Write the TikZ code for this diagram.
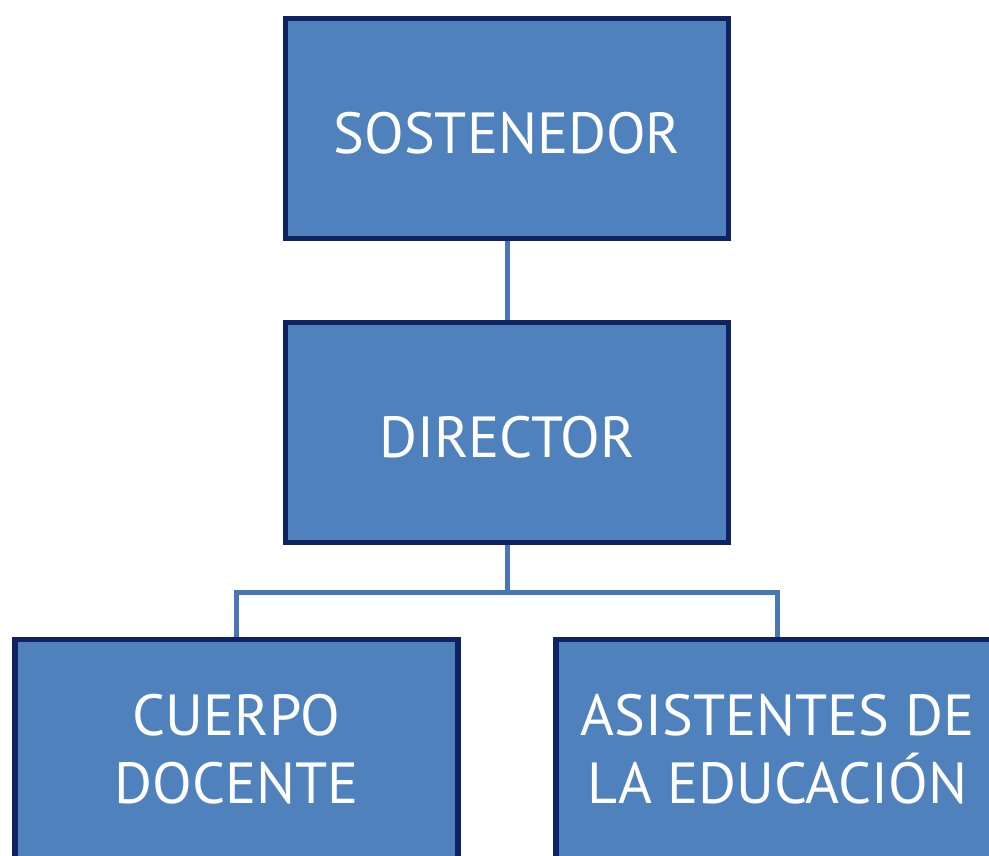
\documentclass[tikz,border=0pt]{standalone}
\usepackage{fontspec}
\setmainfont{PT Sans}
\definecolor{boxfill}{HTML}{4F81BD}
\definecolor{boxline}{HTML}{0F2262}
\definecolor{linkline}{HTML}{4778B5}
\begin{document}
\begin{tikzpicture}[x=1pt,y=-1pt]
				\tikzstyle{unit}=[rectangle,draw=boxline,fill=boxfill,line width=5.5pt,minimum width=443pt,minimum height=220pt,inner sep=0pt,text=white,align=center,font=\fontsize{58}{68}\selectfont]
				\tikzstyle{link}=[draw=linkline,line width=5pt]
				\useasboundingbox (0,0) rectangle (989,856);
				\clip (0,0) rectangle (989,856);
				\node[unit,text height=50pt](s) at (507,128.5){SOSTENEDOR};
				\node[unit,text height=50pt](d) at (507,432.5){DIRECTOR};
				\node[unit](c) at (236.5,749.5){CUERPO\\DOCENTE};
				\node[unit](a) at (777.5,749.5){ASISTENTES DE\\LA EDUCACIÓN};
				\path[link]
					(s) edge (d);
				\draw[link] (d.south) -- ++(0,47.5) coordinate(j) -| (c.north);
				\draw[link] (j) -| (a.north);
			\end{tikzpicture}
\end{document}
